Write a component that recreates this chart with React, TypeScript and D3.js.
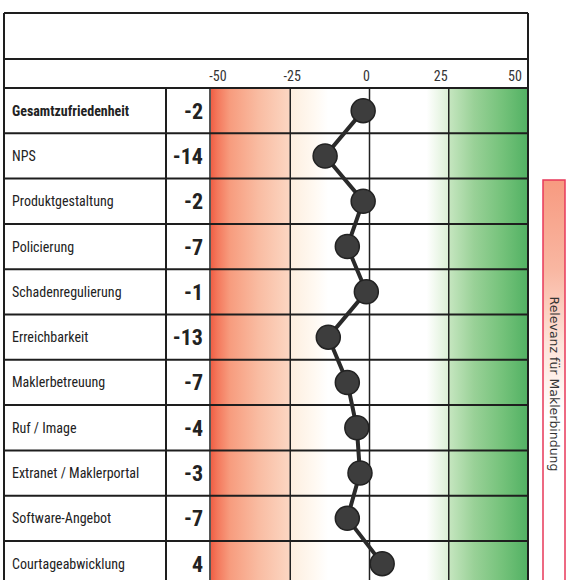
import React from "react";
import * as d3 from "d3";

// chart values
const categories = [
  "Gesamtzufriedenheit",
  "NPS",
  "Produktgestaltung",
  "Policierung",
  "Schadenregulierung",
  "Erreichbarkeit",
  "Maklerbetreuung",
  "Ruf / Image",
  "Extranet / Maklerportal",
  "Software-Angebot",
  "Courtageabwicklung",
];
const scores = [-2, -14, -2, -7, -1, -13, -7, -4, -3, -7, 4];
const tickValues = [-50, -25, 0, 25, 50];
const gridValues = [-25, 0, 25];
const sideLabel = "Relevanz für Maklerbindung";

const W = 568;
const H = 580;
const FONT = "'Liberation Sans Narrow', 'Roboto Condensed', Roboto, sans-serif";

const App = () => {
  const left = 4;
  const right = 528;
  const top = 13;
  const headerY = 59;
  const rowsTop = 88;
  const labelDiv = 166;
  const chartLeft = 210;

  const x = d3.scaleLinear().domain([-50, 50]).range([211, 528]);
  const xLabel = d3.scaleLinear().domain([-50, 50]).range([218, 515]);
  const y = d3
    .scaleBand()
    .domain(categories)
    .range([rowsTop, rowsTop + categories.length * 45.3])
    .padding(0);

  const off = (v) => `${((v + 50) / 100) * 100}%`;
  const bgStops = [
    [-50, "#f15f45"],
    [-48, "#f4785c"],
    [-44, "#f79c7e"],
    [-35, "#f9bca2"],
    [-25.3, "#fbd6c2"],
    [-25, "#fdeedf"],
    [-18, "#fff8f0"],
    [-13, "#ffffff"],
    [18, "#ffffff"],
    [24.8, "#dcf0d6"],
    [25, "#c6e6c0"],
    [33, "#99d197"],
    [42, "#74c27a"],
    [50, "#52b163"],
  ];

  const line = d3
    .line()
    .x((d) => x(d[1]))
    .y((d) => y(d[0]) + y.bandwidth() / 2);
  const pts = categories.map((c, i) => [c, scores[i]]);

  return (
    <svg
      width={W}
      height={H}
      style={{ position: "absolute", left: 0, top: 0, background: "#fff" }}
      fontFamily={FONT}
    >
      <defs>
        <linearGradient id="bg" gradientUnits="userSpaceOnUse" x1={x(-50)} x2={x(50)} y1={0} y2={0}>
          {bgStops.map(([v, c], i) => (
            <stop key={i} offset={off(v)} stopColor={c} />
          ))}
        </linearGradient>
        <linearGradient id="side" x1="0" x2="0" y1="0" y2="1">
          <stop offset="0%" stopColor="#f79a80" />
          <stop offset="22%" stopColor="#f9b7a2" />
          <stop offset="40%" stopColor="#fde3d9" />
          <stop offset="58%" stopColor="#ffffff" />
          <stop offset="100%" stopColor="#ffffff" />
        </linearGradient>
      </defs>

      {/* gradient band */}
      <rect x={x(-50)} y={rowsTop} width={x(50) - x(-50)} height={H - rowsTop} fill="url(#bg)" />

      {/* grid lines */}
      {gridValues.map((v) => (
        <line key={v} x1={x(v)} x2={x(v)} y1={rowsTop} y2={H} stroke="#222" strokeWidth={1.5} />
      ))}

      {/* tick labels */}
      {tickValues.map((v) => (
        <text key={v} x={xLabel(v)} y={81} textAnchor="middle" fontSize={14} fill="#333">
          {v}
        </text>
      ))}

      {/* row lines */}
      {categories.map((c) => (
        <line key={c} x1={left} x2={right} y1={y(c)} y2={y(c)} stroke="#1e1e1e" strokeWidth={2} />
      ))}
      <line x1={left} x2={right} y1={headerY} y2={headerY} stroke="#1e1e1e" strokeWidth={2} />
      <line x1={left} x2={right} y1={top} y2={top} stroke="#1e1e1e" strokeWidth={2} />

      {/* column lines */}
      <line x1={left} x2={left} y1={top} y2={H} stroke="#1e1e1e" strokeWidth={2} />
      <line x1={right} x2={right} y1={top} y2={H} stroke="#1e1e1e" strokeWidth={2} />
      <line x1={labelDiv} x2={labelDiv} y1={rowsTop} y2={H} stroke="#1e1e1e" strokeWidth={2} />
      <line x1={chartLeft} x2={chartLeft} y1={rowsTop} y2={H} stroke="#1e1e1e" strokeWidth={1.5} />

      {/* labels and values */}
      {categories.map((c, i) => (
        <g key={c} transform={`translate(0,${y(c) + y.bandwidth() / 2})`}>
          <text x={12} y={5} fontSize={14} fontWeight={i === 0 ? "bold" : "normal"} fill="#222">
            {c}
          </text>
          <text x={203} y={8} fontSize={22} fontWeight="bold" textAnchor="end" fill="#222">
            {scores[i]}
          </text>
        </g>
      ))}

      {/* profile line */}
      <path d={line(pts)} fill="none" stroke="#2a2a2a" strokeWidth={4} />
      {pts.map((p) => (
        <circle
          key={p[0]}
          cx={x(p[1])}
          cy={y(p[0]) + y.bandwidth() / 2}
          r={12}
          fill="#3d3d3d"
          stroke="#222"
          strokeWidth={1.5}
        />
      ))}

      {/* side indicator */}
      <rect x={543} y={180} width={22} height={H - 180 + 10} fill="url(#side)" stroke="#e8395a" strokeWidth={1.5} />
      <text
        transform={`translate(550,384) rotate(90)`}
        textAnchor="middle"
        fontSize={12.5}
        fontFamily="'DejaVu Sans', sans-serif"
        fill="#333"
      >
        {sideLabel}
      </text>
    </svg>
  );
};

export default App;
